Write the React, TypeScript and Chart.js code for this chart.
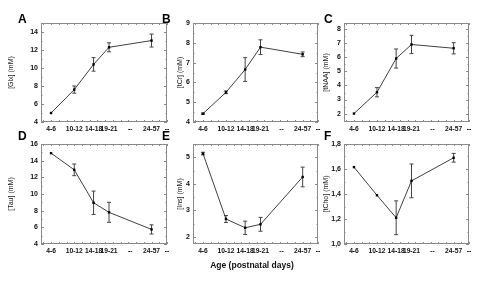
import { useEffect, useRef } from "react";
import { Chart, registerables } from "chart.js";
Chart.register(...registerables);

// ---- data ----
const ageLabels = ["4-6", "10-12", "14-18", "19-21", "--", "24-57", "--"];
const ageTickPos = [5, 11, 16, 20, 25.5, 31, 35];
const ageX = [5, 11, 16, 20, 31];

const glx = [5.0, 7.6, 10.4, 12.3, 13.05];
const glxErr = [0, 0.4, 0.75, 0.5, 0.72];
const glxTicks = [4, 6, 8, 10, 12, 14];

const tcr = [4.42, 5.5, 6.65, 7.78, 7.42];
const tcrErr = [0.03, 0.07, 0.6, 0.37, 0.12];
const tcrTicks = [4, 5, 6, 7, 8, 9];

const tnaa = [2.0, 3.52, 5.92, 6.92, 6.65];
const tnaaErr = [0, 0.33, 0.68, 0.65, 0.4];
const tnaaTicks = [2, 3, 4, 5, 6, 7, 8];

const tau = [14.9, 12.9, 8.95, 7.8, 5.75];
const tauErr = [0, 0.7, 1.4, 1.2, 0.55];
const tauTicks = [4, 6, 8, 10, 12, 14, 16];

const ins = [5.14, 2.68, 2.35, 2.48, 4.26];
const insErr = [0.05, 0.13, 0.25, 0.26, 0.37];
const insTicks = [2, 3, 4, 5];

const tcho = [1.615, 1.39, 1.21, 1.505, 1.69];
const tchoErr = [0, 0, 0.135, 0.135, 0.035];
const tchoTicks = [1.0, 1.2, 1.4, 1.6, 1.8];

const FONT = '"Liberation Sans", Arial, sans-serif';
const W = 500;
const H = 284;
const Y_W = 36;
const X_H = 14;
const TITLE_SIZE = 7;

type Panel = {
  letter: string;
  title: string;
  values: number[];
  errors: number[];
  ticks: number[];
  yMin: number;
  yMax: number;
  minor: number;
  comma: boolean;
  l: number; r: number; t: number; b: number;
  titleX: number;
  letterX: number;
  letterY: number;
};

const panels: Panel[] = [
  { letter: "A", title: "[Glx] (mM)", values: glx, errors: glxErr, ticks: glxTicks, yMin: 4, yMax: 15, minor: 1, comma: false, l: 41, r: 167, t: 23, b: 122, titleX: 11, letterX: 18, letterY: 13 },
  { letter: "B", title: "[tCr] (mM)", values: tcr, errors: tcrErr, ticks: tcrTicks, yMin: 4, yMax: 9, minor: 0.5, comma: false, l: 193, r: 318, t: 23, b: 122, titleX: 180, letterX: 162, letterY: 13 },
  { letter: "C", title: "[tNAA] (mM)", values: tnaa, errors: tnaaErr, ticks: tnaaTicks, yMin: 1.4, yMax: 8.45, minor: 0.5, comma: false, l: 344, r: 469, t: 23, b: 122, titleX: 326, letterX: 324, letterY: 13 },
  { letter: "D", title: "[Tau] (mM)", values: tau, errors: tauErr, ticks: tauTicks, yMin: 4, yMax: 16, minor: 1, comma: false, l: 41, r: 167, t: 144, b: 244, titleX: 11, letterX: 18, letterY: 130 },
  { letter: "E", title: "[Ins] (mM)", values: ins, errors: insErr, ticks: insTicks, yMin: 1.74, yMax: 5.5, minor: 0.5, comma: false, l: 193, r: 318, t: 144, b: 244, titleX: 180, letterX: 162, letterY: 130 },
  { letter: "F", title: "[tCho] (mM)", values: tcho, errors: tchoErr, ticks: tchoTicks, yMin: 1.0, yMax: 1.8, minor: 0.1, comma: true, l: 344, r: 469, t: 144, b: 244, titleX: 326, letterX: 324, letterY: 130 },
];

function makeDecor(p: Panel) {
  return {
    id: "decor" + p.letter,
    beforeDatasetsDraw(chart: any) {
      const { ctx, chartArea: a, scales } = chart;
      const x = scales.x;
      const y = scales.y;
      ctx.save();
      // frame
      ctx.strokeStyle = "#8a8a8a";
      ctx.lineWidth = 1;
      ctx.strokeRect(a.left + 0.5, a.top + 0.5, a.right - a.left - 1, a.bottom - a.top - 1);
      // y ticks (major + minor), inward on both sides
      ctx.beginPath();
      const start = Math.ceil(p.yMin / p.minor - 1e-6);
      const end = Math.floor(p.yMax / p.minor + 1e-6);
      for (let k = start; k <= end; k++) {
        const v = k * p.minor;
        const major = p.ticks.some((t) => Math.abs(t - v) < 1e-6);
        const len = major ? 3 : 1.5;
        const py = Math.round(y.getPixelForValue(v)) + 0.5;
        ctx.moveTo(a.left, py);
        ctx.lineTo(a.left + len, py);
        ctx.moveTo(a.right, py);
        ctx.lineTo(a.right - len, py);
      }
      // x ticks
      for (let d = 3; d <= 35; d += 2) {
        const px = Math.round(x.getPixelForValue(d)) + 0.5;
        ctx.moveTo(px, a.bottom);
        ctx.lineTo(px, a.bottom - 2);
        ctx.moveTo(px, a.top);
        ctx.lineTo(px, a.top + 2);
      }
      ctx.stroke();
      // error bars
      ctx.strokeStyle = "#444";
      ctx.lineWidth = 1;
      ctx.beginPath();
      p.values.forEach((v, i) => {
        const e = p.errors[i];
        if (!e) return;
        const px = x.getPixelForValue(ageX[i]);
        const y1 = y.getPixelForValue(v + e);
        const y2 = y.getPixelForValue(v - e);
        ctx.moveTo(px, y1);
        ctx.lineTo(px, y2);
        ctx.moveTo(px - 2, y1);
        ctx.lineTo(px + 2, y1);
        ctx.moveTo(px - 2, y2);
        ctx.lineTo(px + 2, y2);
      });
      ctx.stroke();
      ctx.restore();
    },
  };
}

function PanelChart({ p }: { p: Panel }) {
  const ref = useRef<HTMLCanvasElement>(null);
  useEffect(() => {
    if (!ref.current) return;
    const titleLH = TITLE_SIZE * 1.2;
    const scaleLeft = p.l - Y_W;
    const titlePad = p.titleX - scaleLeft - titleLH / 2;
    const chart = new Chart(ref.current, {
      type: "line",
      data: {
        datasets: [
          {
            data: ageX.map((xv, i) => ({ x: xv, y: p.values[i] })),
            borderColor: "#2a2a2a",
            borderWidth: 0.9,
            pointStyle: "rect",
            pointRadius: 1.7,
            pointBackgroundColor: "#000",
            pointBorderWidth: 0,
            tension: 0,
            fill: false,
          },
        ],
      },
      options: {
        responsive: false,
        animation: false,
        events: [],
        layout: {
          padding: { left: scaleLeft, right: W - p.r, top: p.t, bottom: H - p.b - X_H },
        },
        plugins: { legend: { display: false }, tooltip: { enabled: false } },
        scales: {
          x: {
            type: "linear",
            min: 2.4,
            max: 35,
            afterBuildTicks: (s: any) => {
              s.ticks = ageTickPos.map((v) => ({ value: v }));
            },
            afterFit: (s: any) => {
              s.height = X_H;
            },
            grid: { display: false, drawTicks: false },
            border: { display: false },
            ticks: {
              autoSkip: false,
              maxRotation: 0,
              minRotation: 0,
              padding: 3,
              color: "#111",
              font: { family: FONT, size: 6.7, weight: "bold" },
              callback: (v: any) => ageLabels[ageTickPos.indexOf(Number(v))],
            },
          },
          y: {
            type: "linear",
            min: p.yMin,
            max: p.yMax,
            afterBuildTicks: (s: any) => {
              s.ticks = p.ticks.map((v) => ({ value: v }));
            },
            afterFit: (s: any) => {
              s.width = Y_W;
            },
            grid: { display: false, drawTicks: false },
            border: { display: false },
            ticks: {
              autoSkip: false,
              padding: 3,
              color: "#111",
              font: { family: FONT, size: 7, weight: "bold" },
              callback: (v: any) => {
                const n = Number(v);
                return p.comma ? n.toFixed(1).replace(".", ",") : String(n);
              },
            },
            title: {
              display: true,
              text: p.title,
              color: "#222",
              font: { family: FONT, size: TITLE_SIZE, lineHeight: 1.2 },
              padding: { top: titlePad, bottom: 0 },
            },
          },
        },
      },
      plugins: [makeDecor(p)],
    } as any);
    return () => chart.destroy();
  }, [p]);
  return (
    <canvas
      ref={ref}
      width={W}
      height={H}
      style={{ position: "absolute", left: 0, top: 0, width: W, height: H }}
    />
  );
}

export default function App() {
  useEffect(() => {
    document.body.style.margin = "0";
  }, []);
  return (
    <div style={{ position: "fixed", left: 0, top: 0, width: W, height: H, background: "#fff", overflow: "hidden" }}>
      {panels.map((p) => (
        <PanelChart key={p.letter} p={p} />
      ))}
      {panels.map((p) => (
        <div
          key={"L" + p.letter}
          style={{
            position: "absolute",
            left: p.letterX,
            top: p.letterY,
            font: `bold 12px ${FONT}`,
            lineHeight: "12px",
            color: "#000",
          }}
        >
          {p.letter}
        </div>
      ))}
      <div
        style={{
          position: "absolute",
          left: 172,
          width: 160,
          top: 260,
          textAlign: "center",
          font: `bold 8.5px ${FONT}`,
          lineHeight: "10px",
          color: "#111",
        }}
      >
        Age (postnatal days)
      </div>
    </div>
  );
}
